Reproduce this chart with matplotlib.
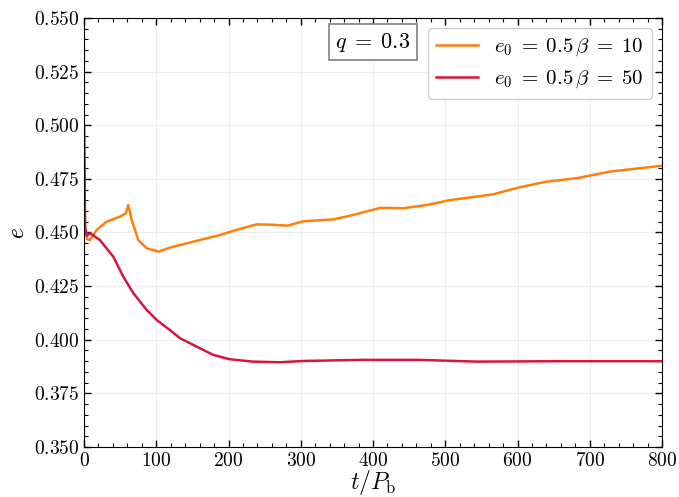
import matplotlib
matplotlib.use("Agg")
import matplotlib.pyplot as plt
from matplotlib.ticker import MultipleLocator, AutoMinorLocator, FuncFormatter

# e(t) for beta = 10
t_b10 = [0, 1.4, 4, 8.3, 17.5, 31.4, 49.8, 58, 61.4, 66, 75, 86.8, 103, 123.6,
         151, 188, 211, 239, 262, 282, 303.5, 345, 373, 410, 442, 474, 506.6,
         566.5, 603, 640, 682, 728, 797, 800]
e_b10 = [0.500, 0.4527, 0.447, 0.4465, 0.4512, 0.4550, 0.4574, 0.4590, 0.4628,
         0.4558, 0.4465, 0.4426, 0.4411, 0.4434, 0.4457, 0.4488, 0.4512,
         0.4538, 0.4536, 0.4532, 0.4552, 0.4561, 0.4582, 0.4615, 0.4613,
         0.4628, 0.4651, 0.4678, 0.4711, 0.4737, 0.4753, 0.4784, 0.4810,
         0.4811]

# e(t) for beta = 50
t_b50 = [0, 1.5, 4, 8.3, 22, 40.6, 54.4, 68.3, 86.8, 100.6, 119, 132.9, 156,
         179, 202, 234, 271, 303, 382, 465, 544, 659, 800]
e_b50 = [0.500, 0.452, 0.4485, 0.4496, 0.4465, 0.4387, 0.4294, 0.4217, 0.4139,
         0.4092, 0.4045, 0.4007, 0.3968, 0.3929, 0.3909, 0.3898, 0.3895,
         0.3901, 0.3906, 0.3906, 0.3898, 0.3900, 0.3900]

labels = [r"$e_0\;=\;0.5\,\beta\;=\;10$", r"$e_0\;=\;0.5\,\beta\;=\;50$"]
colors = ["#ff7f0e", "#dc143c"]

plt.rcParams["mathtext.fontset"] = "cm"
plt.rcParams["font.family"] = "serif"
plt.rcParams["font.serif"] = ["DejaVu Serif"]

fig = plt.figure(figsize=(6.79, 4.97), dpi=100)
ax = fig.add_axes([0.1237, 0.1006, 0.8513, 0.8632])

ax.plot(t_b10, e_b10, color=colors[0], lw=1.8, label=labels[0])
ax.plot(t_b50, e_b50, color=colors[1], lw=1.8, label=labels[1])

ax.set_xlim(0, 800)
ax.set_ylim(0.35, 0.55)
ax.xaxis.set_major_locator(MultipleLocator(100))
ax.xaxis.set_minor_locator(AutoMinorLocator(5))
ax.yaxis.set_major_locator(MultipleLocator(0.025))
ax.yaxis.set_minor_locator(AutoMinorLocator(5))
ax.xaxis.set_major_formatter(FuncFormatter(lambda v, p: f"${v:.0f}$"))
ax.yaxis.set_major_formatter(FuncFormatter(lambda v, p: f"${v:.3f}$"))
ax.tick_params(which="both", direction="in", top=True, right=True, labelsize=14)
ax.tick_params(which="major", length=5, width=1)
ax.tick_params(which="minor", length=3, width=0.8)
ax.grid(True, which="major", color="#eeeeee", lw=0.8)

ax.set_xlabel(r"$t/P_{\rm b}$", fontsize=17, labelpad=-1)
ax.set_ylabel(r"$e$", fontsize=17, labelpad=3)

ax.text(0.5, 0.944, r"$q\;=\;0.3$", transform=ax.transAxes, fontsize=16,
        ha="center", va="center",
        bbox=dict(boxstyle="square,pad=0.3", fc="white", ec="gray", lw=1.2))
ax.legend(loc="upper right", fontsize=15, framealpha=1, edgecolor="#cccccc",
          handlelength=2.0)

fig.savefig("out.png", dpi=100)
